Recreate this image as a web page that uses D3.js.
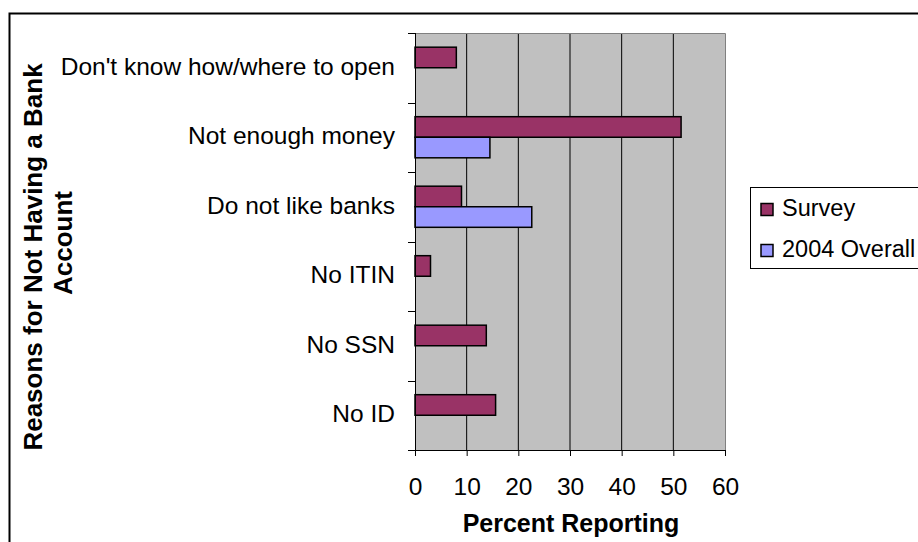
<!DOCTYPE html>
<meta charset="utf-8">
<script src="https://d3js.org/d3.v7.min.js"></script>
<style>
  body { margin: 0; background: #fff; }
  text { font-family: "Liberation Sans", Arial, sans-serif; }
</style>
<div id="my_dataviz"></div>
<script>

// data
var categories = ["Don't know how/where to open", "Not enough money", "Do not like banks", "No ITIN", "No SSN", "No ID"];
var seriesNames = ["Survey", "2004 Overall"];
var survey = [8, 51.5, 9, 3, 13.8, 15.6];
var overall2004 = [null, 14.5, 22.6, null, null, null];
var xTicks = [0, 10, 20, 30, 40, 50, 60];
var colors = ["#993366", "#9999FF"];

var W = 918, H = 542;
var plot = {left: 415, right: 725, top: 33, bottom: 450};

var svg = d3.select("#my_dataviz")
  .append("svg")
    .attr("width", W)
    .attr("height", H);

// outer chart border (runs off the right and bottom edges)
svg.append("rect")
  .attr("x", 9.5).attr("y", 13.5)
  .attr("width", W + 20).attr("height", H + 20)
  .attr("fill", "#fff")
  .attr("stroke", "#000")
  .attr("stroke-width", 2);

var x = d3.scaleLinear()
  .domain([0, 60])
  .range([plot.left, plot.right]);

var y = d3.scaleBand()
  .domain(categories)
  .range([plot.top, plot.bottom]);

var ySub = d3.scaleBand()
  .domain(seriesNames)
  .range([0, y.bandwidth()])
  .paddingOuter(0.69);

// plot background
svg.append("rect")
  .attr("x", plot.left).attr("y", plot.top)
  .attr("width", plot.right - plot.left)
  .attr("height", plot.bottom - plot.top)
  .attr("fill", "#C0C0C0");

// gridlines
svg.append("g")
  .selectAll("line")
  .data(xTicks.slice(1, -1))
  .join("line")
    .attr("x1", d => x(d)).attr("x2", d => x(d))
    .attr("y1", plot.top).attr("y2", plot.bottom)
    .attr("stroke", "#000")
    .attr("stroke-width", 1);

// top and right plot border
svg.append("path")
  .attr("d", "M" + plot.left + "," + (plot.top + 0.5) + "H" + (plot.right + 0.5) + "V" + plot.bottom)
  .attr("fill", "none")
  .attr("stroke", "#808080")
  .attr("stroke-width", 1);

// bars
var rows = categories.map(function(c, i) {
  return {cat: c, vals: [survey[i], overall2004[i]]};
});

var groups = svg.append("g")
  .selectAll("g")
  .data(rows)
  .join("g")
    .attr("transform", d => "translate(0," + y(d.cat) + ")");

groups.selectAll("rect")
  .data(d => d.vals.map((v, j) => ({name: seriesNames[j], v: v, j: j})).filter(d => d.v != null))
  .join("rect")
    .attr("x", x(0))
    .attr("y", d => ySub(d.name))
    .attr("width", d => x(d.v) - x(0))
    .attr("height", ySub.bandwidth())
    .attr("fill", d => colors[d.j])
    .attr("stroke", "#000")
    .attr("stroke-width", 1.5);

// y axis line and ticks
svg.append("line")
  .attr("x1", plot.left + 0.5).attr("x2", plot.left + 0.5)
  .attr("y1", plot.top).attr("y2", plot.bottom)
  .attr("stroke", "#000");
var yEdges = categories.map(c => y(c)).concat([plot.bottom]);
svg.append("g")
  .selectAll("line")
  .data(yEdges)
  .join("line")
    .attr("x1", plot.left - 7).attr("x2", plot.left)
    .attr("y1", d => Math.round(d) + 0.5).attr("y2", d => Math.round(d) + 0.5)
    .attr("stroke", "#000");

// category labels
svg.append("g")
  .selectAll("text")
  .data(categories)
  .join("text")
    .attr("x", 395)
    .attr("y", d => y(d) + y.bandwidth() / 2 + 6.8)
    .attr("text-anchor", "end")
    .attr("font-size", 24.5)
    .attr("fill", "#000")
    .text(d => d);

// x axis
var xAxis = svg.append("g")
  .attr("transform", "translate(0," + plot.bottom + ")")
  .call(d3.axisBottom(x).tickValues(xTicks).tickSize(6).tickPadding(22).tickSizeOuter(0));
xAxis.select(".domain").attr("stroke", "#000");
xAxis.selectAll("line").attr("stroke", "#000");
xAxis.selectAll("text")
  .attr("font-size", 24.5)
  .attr("font-family", "Liberation Sans, Arial, sans-serif")
  .attr("fill", "#000");

// axis titles
svg.append("text")
  .attr("x", 571).attr("y", 532)
  .attr("text-anchor", "middle")
  .attr("font-size", 25)
  .attr("font-weight", "bold")
  .text("Percent Reporting");

var yTitle = svg.append("g");
yTitle.append("text")
  .attr("transform", "translate(42,257) rotate(-90)")
  .attr("text-anchor", "middle")
  .attr("font-size", 26)
  .attr("font-weight", "bold")
  .text("Reasons for Not Having a Bank");
yTitle.append("text")
  .attr("transform", "translate(72,243) rotate(-90)")
  .attr("text-anchor", "middle")
  .attr("font-size", 26)
  .attr("font-weight", "bold")
  .text("Account");

// legend
var legend = svg.append("g");
legend.append("rect")
  .attr("x", 750.5).attr("y", 187.5)
  .attr("width", 180).attr("height", 81)
  .attr("fill", "#fff")
  .attr("stroke", "#000");

var items = legend.selectAll("g")
  .data(seriesNames)
  .join("g")
    .attr("transform", (d, i) => "translate(0," + (i * 41) + ")");
items.append("rect")
  .attr("x", 761).attr("y", 203.5)
  .attr("width", 12).attr("height", 12)
  .attr("fill", (d, i) => colors[i])
  .attr("stroke", "#000")
  .attr("stroke-width", 1.5);
items.append("text")
  .attr("x", 782).attr("y", 216)
  .attr("font-size", 23.5)
  .text(d => d);

</script>
